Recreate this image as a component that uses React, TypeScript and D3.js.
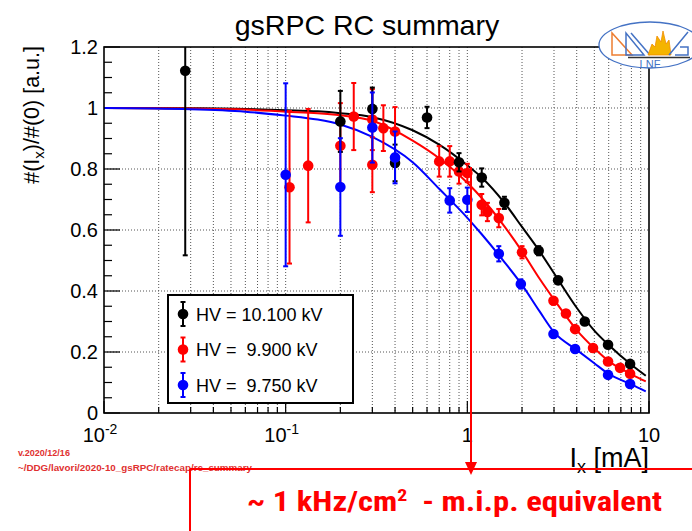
import React from "react";
import * as d3 from "d3";

const W = 692;
const H = 531;

// ---- data ----
const blackX = [0.028, 0.2, 0.3, 0.4, 0.6, 0.9, 1.2, 1.6, 2.47, 3.16, 4.43, 5.95, 7.87];
const blackY = [1.122, 0.956, 0.997, 0.82, 0.969, 0.822, 0.772, 0.689, 0.532, 0.435, 0.3, 0.224, 0.161];
const blackErr = [0.605, 0.1, 0.07, 0.06, 0.035, 0.03, 0.03, 0.02, 0.015, 0.012, 0.01, 0.01, 0.01];

const redX = [0.105, 0.133, 0.2, 0.237, 0.3, 0.3, 0.345, 0.4, 0.7, 0.8, 0.9, 1.0, 1.2, 1.29, 1.49, 2.0, 2.98, 3.49, 3.92, 4.92, 5.95, 6.93, 7.87];
const redY = [0.74, 0.811, 0.876, 0.972, 0.962, 0.814, 0.934, 0.923, 0.825, 0.825, 0.792, 0.787, 0.683, 0.659, 0.639, 0.527, 0.368, 0.326, 0.275, 0.213, 0.169, 0.148, 0.129];
const redErr = [0.25, 0.186, 0.14, 0.11, 0.1, 0.09, 0.075, 0.08, 0.05, 0.05, 0.04, 0.03, 0.035, 0.03, 0.03, 0.02, 0.012, 0.01, 0.01, 0.01, 0.01, 0.01, 0.01];

const blueX = [0.1, 0.2, 0.3, 0.4, 0.8, 1.0, 1.49, 1.97, 2.98, 3.92, 5.95, 7.87];
const blueY = [0.781, 0.741, 0.936, 0.838, 0.697, 0.699, 0.522, 0.423, 0.259, 0.21, 0.125, 0.095];
const blueErr = [0.3, 0.16, 0.115, 0.085, 0.04, 0.04, 0.025, 0.015, 0.01, 0.01, 0.01, 0.01];

// fitted curves
const fitX = [0.01, 0.03, 0.06, 0.1, 0.15, 0.2, 0.3, 0.5, 0.7, 1.0, 1.2, 1.6, 2.0, 2.5, 3.0, 4.0, 5.0, 6.0, 8.0, 9.6];
const blackFit = [1.0, 0.999, 0.997, 0.993, 0.989, 0.983, 0.97, 0.927, 0.88, 0.812, 0.772, 0.689, 0.61, 0.53, 0.458, 0.345, 0.27, 0.223, 0.158, 0.122];
const redFit = [1.0, 0.998, 0.995, 0.988, 0.983, 0.976, 0.958, 0.893, 0.835, 0.755, 0.705, 0.612, 0.53, 0.44, 0.372, 0.272, 0.212, 0.17, 0.127, 0.104];
const blueFit = [1.0, 0.996, 0.988, 0.975, 0.962, 0.946, 0.905, 0.822, 0.735, 0.64, 0.586, 0.495, 0.42, 0.333, 0.265, 0.207, 0.163, 0.128, 0.094, 0.071];

const legendLabels = ["HV = 10.100 kV", "HV =  9.900 kV", "HV =  9.750 kV"];
const seriesColors = ["#000000", "#ff0000", "#0000ff"];

const yTickLabels = ["0", "0.2", "0.4", "0.6", "0.8", "1", "1.2"];
const xDecades = [0.01, 0.1, 1, 10];
const xDecadeBase = ["10", "10", "1", "10"];
const xDecadeExp = ["-2", "-1", "", ""];

const titleText = "gsRPC RC summary";
const versionText = "v.2020/12/16";
const pathText = "~/DDG/lavori/2020-10_gsRPC/ratecap/rc_summary";

const FONT = "'Liberation Sans', Arial, Helvetica, sans-serif";

export default function App() {
  const left = 104, right = 649, top = 47, bottom = 413;
  const x = d3.scaleLog().domain([0.01, 10]).range([left, right]);
  const y = d3.scaleLinear().domain([0, 1.2]).range([bottom, top]);

  const minorX: number[] = [];
  [0.01, 0.1, 1].forEach((d) => {
    for (let k = 2; k <= 9; k++) minorX.push(d * k);
  });
  const yTicks = d3.range(0, 1.2001, 0.05);
  const yMajor = d3.range(0, 1.2001, 0.2);

  const line = d3
    .line<[number, number]>()
    .x((d) => x(d[0]))
    .y((d) => y(d[1]))
    .curve(d3.curveMonotoneX);

  const series = [
    { xs: blackX, ys: blackY, es: blackErr, fit: blackFit, color: seriesColors[0] },
    { xs: redX, ys: redY, es: redErr, fit: redFit, color: seriesColors[1] },
    { xs: blueX, ys: blueY, es: blueErr, fit: blueFit, color: seriesColors[2] },
  ];
  const drawOrder = [1, 0, 2];

  const grid = "#555";
  const arrowX = 471;

  return (
    <svg
      width={W}
      height={H}
      style={{ position: "absolute", left: 0, top: 0, background: "#fff" }}
      fontFamily={FONT}
    >
      <defs>
        <clipPath id="plotClip">
          <rect x={left} y={top} width={right - left} height={bottom - top} />
        </clipPath>
      </defs>

      {/* title */}
      <text x={367} y={35} fontSize={28.5} textAnchor="middle" fill="#000">
        {titleText}
      </text>

      {/* grid */}
      <g stroke={grid} strokeWidth={1} strokeDasharray="1,2">
        {[...minorX, 0.1, 1].map((v, i) => (
          <line key={"gx" + i} x1={x(v)} x2={x(v)} y1={top} y2={bottom} />
        ))}
        {yMajor.slice(1, -1).map((v, i) => (
          <line key={"gy" + i} x1={left} x2={right} y1={y(v)} y2={y(v)} />
        ))}
      </g>

      {/* y ticks */}
      <g stroke="#000" strokeWidth={1.2}>
        {yTicks.map((v, i) => {
          const major = i % 4 === 0;
          return <line key={"yt" + i} x1={left} x2={left + (major ? 16 : 8)} y1={y(v)} y2={y(v)} />;
        })}
      </g>
      {/* x ticks */}
      <g stroke="#000" strokeWidth={1.2}>
        {minorX.map((v, i) => (
          <line key={"xt" + i} x1={x(v)} x2={x(v)} y1={bottom} y2={bottom - 6} />
        ))}
        {xDecades.map((v, i) => (
          <line key={"xM" + i} x1={x(v)} x2={x(v)} y1={bottom} y2={bottom - 12} />
        ))}
      </g>

      {/* fit curves */}
      <g clipPath="url(#plotClip)" fill="none" strokeWidth={2}>
        {series.map((s, i) => (
          <path
            key={"fit" + i}
            d={line(fitX.map((v, j) => [v, s.fit[j]]) as [number, number][]) || ""}
            stroke={s.color}
          />
        ))}
      </g>

      {/* points with errors */}
      <g clipPath="url(#plotClip)">
        {drawOrder.map((si) => {
          const s = series[si];
          return (
            <g key={"s" + si}>
              {s.xs.map((v, j) => {
                const px = x(v);
                const py = y(s.ys[j]);
                const y1 = y(s.ys[j] + s.es[j]);
                const y2 = y(s.ys[j] - s.es[j]);
                return (
                  <g key={j}>
                    <line x1={px} x2={px} y1={y1} y2={y2} stroke={s.color} strokeWidth={2} />
                    <line x1={px - 2.5} x2={px + 2.5} y1={y1} y2={y1} stroke={s.color} strokeWidth={2} />
                    <line x1={px - 2.5} x2={px + 2.5} y1={y2} y2={y2} stroke={s.color} strokeWidth={2} />
                    <circle cx={px} cy={py} r={5.3} fill={s.color} />
                  </g>
                );
              })}
            </g>
          );
        })}
      </g>

      {/* frame */}
      <rect x={left} y={top} width={right - left} height={bottom - top} fill="none" stroke="#000" strokeWidth={1.6} />

      {/* y tick labels */}
      <g fontSize={20} textAnchor="end" fill="#000">
        {yMajor.map((v, i) => (
          <text key={"yl" + i} x={98} y={y(v) + 7}>
            {yTickLabels[i]}
          </text>
        ))}
      </g>
      {/* x tick labels */}
      <g fontSize={20} fill="#000">
        {xDecades.map((v, i) => (
          <text key={"xl" + i} x={x(v) + (xDecadeExp[i] ? -4 : 0)} y={442} textAnchor="middle">
            {xDecadeBase[i]}
            {xDecadeExp[i] && (
              <tspan dy={-8} fontSize={14}>
                {xDecadeExp[i]}
              </tspan>
            )}
          </text>
        ))}
      </g>

      {/* axis titles */}
      <text x={649} y={467} fontSize={27} textAnchor="end" fill="#000">
        I<tspan fontSize={18} dy={6}>x</tspan>
        <tspan dy={-6}> [mA]</tspan>
      </text>
      <text transform="translate(39,46) rotate(-90)" fontSize={21.5} textAnchor="end" fill="#000">
        #(I<tspan fontSize={15} dy={5}>x</tspan>
        <tspan dy={-5}>)/#(0) [a.u.]</tspan>
      </text>

      {/* legend */}
      <rect x={168} y={295} width={185} height={108} fill="#fff" stroke="#000" strokeWidth={2} />
      {legendLabels.map((lab, i) => {
        const ly = 314 + i * 35.5;
        const c = seriesColors[i];
        return (
          <g key={"lg" + i}>
            <line x1={183} x2={183} y1={ly - 12} y2={ly + 12} stroke={c} strokeWidth={2} />
            <line x1={180.5} x2={185.5} y1={ly - 12} y2={ly - 12} stroke={c} strokeWidth={2} />
            <line x1={180.5} x2={185.5} y1={ly + 12} y2={ly + 12} stroke={c} strokeWidth={2} />
            <circle cx={183} cy={ly} r={5.3} fill={c} />
            <text x={196} y={ly + 6.5} fontSize={18} fill="#000" style={{ whiteSpace: "pre" }}>
              {lab}
            </text>
          </g>
        );
      })}

      {/* logo */}
      <g>
        <ellipse cx={650} cy={45} rx={51} ry={23} fill="#fff" stroke="#4472c4" strokeWidth={1.3} />
        <path d="M612,33 L612,55 L632,55 Z" fill="none" stroke="#ed7d31" strokeWidth={1.5} />
        <path d="M626,33 L626,55 L644,55 Z" fill="none" stroke="#4472c4" strokeWidth={1.5} />
        <path d="M631,33 L650,55" fill="none" stroke="#4472c4" strokeWidth={1.5} />
        <path d="M648,55 L652,44 L655,47 L657,36 L661,42 L663,31 L666,44 L669,40 L671,55 Z" fill="#f4b400" stroke="#f08c00" strokeWidth={0.8} />
        <path d="M669,55 L688,32 M675,55 L688,55 L688,47 L680,47" fill="none" stroke="#4472c4" strokeWidth={1.5} />
        <line x1={628} x2={690} y1={57.5} y2={57.5} stroke="#333" strokeWidth={1.5} />
        <text x={650} y={67.5} fontSize={11} textAnchor="middle" fill="#4472c4">LNF</text>
      </g>

      {/* annotations */}
      <text x={18} y={456} fontSize={9} fontWeight="bold" fill="#e03030">{versionText}</text>
      <text x={18} y={471} fontSize={9.5} fontWeight="bold" fill="#e03030" textLength={234} lengthAdjust="spacingAndGlyphs">
        {pathText}
      </text>

      <g stroke="#ff0000" strokeWidth={2} fill="none">
        <line x1={arrowX} x2={arrowX} y1={167} y2={464} />
        <line x1={190} x2={W} y1={469} y2={469} />
        <line x1={190} x2={190} y1={469} y2={H} />
      </g>
      <path d={`M${arrowX - 6},${462} L${arrowX + 6},${462} L${arrowX},${475} Z`} fill="#ff0000" />

      <text x={247} y={511} fontSize={28} fontWeight="bold" fill="#ff0000"
        fontFamily="'Liberation Sans Narrow', 'Roboto Condensed', 'Liberation Sans', sans-serif"
        textLength={415} lengthAdjust="spacingAndGlyphs" style={{ whiteSpace: "pre" }}>
        ~ 1 kHz/cm<tspan dy={-10} fontSize={17}>2</tspan>
        <tspan dy={10}>{"  - m.i.p. equivalent"}</tspan>
      </text>
    </svg>
  );
}
